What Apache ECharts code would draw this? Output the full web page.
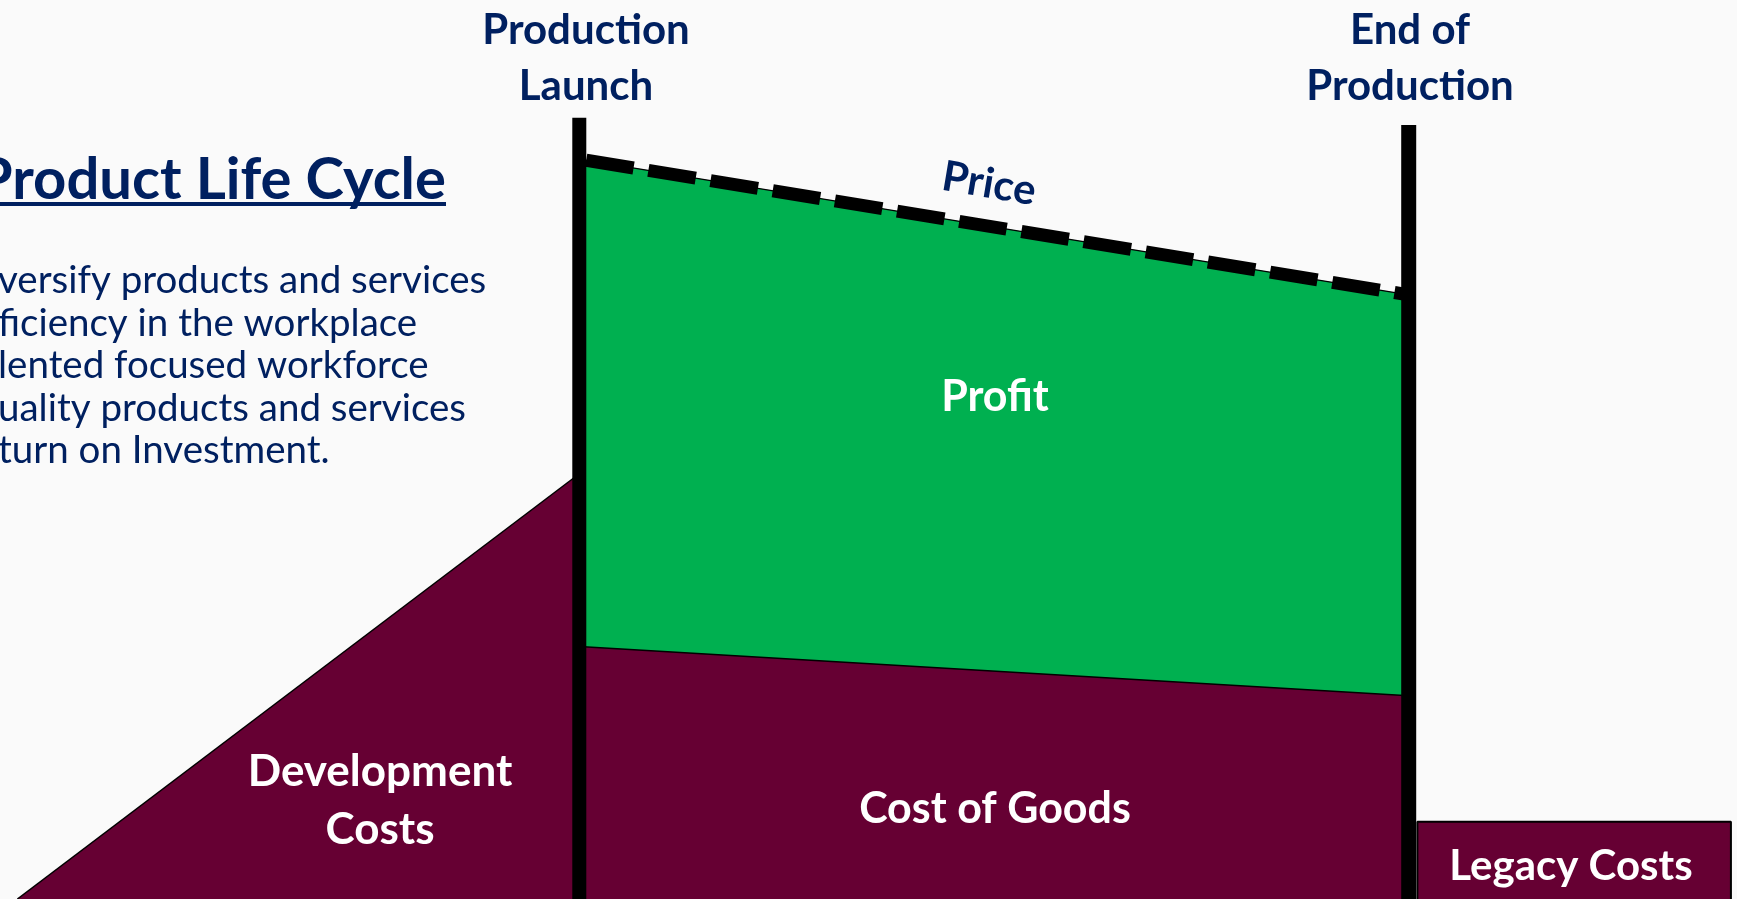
<!DOCTYPE html>
<html>
<head>
<meta charset="utf-8">
<title>Product Life Cycle</title>
<script src="https://cdn.jsdelivr.net/npm/echarts@6/dist/echarts.min.js"></script>
<style>
  html, body { margin: 0; padding: 0; background: #fafafa; }
  #chart { width: 1737px; height: 899px; }
</style>
</head>
<body>
<div id="chart"></div>
<script>
// x = time (0..100), y = money (0..100)
const milestoneNames = ["Production\nLaunch", "End of\nProduction"];
const milestoneX = [33.35, 81.1];
const milestoneTop = [86.9, 86.1];

const devX = [1.0, 33.35];
const devY = [0, 47.3];

const priceY = [82.3, 67.2];   // at launch, at end of production
const goodsY = [28.1, 22.6];

const legacyX = [81.6, 99.65];
const legacyY = [8.6, 8.6];

const bulletLines = [
    "versify products and services",
    "ficiency in the workplace",
    "lented focused workforce",
    "uality products and services",
    "turn on Investment."
];

const NAVY = "#002060";
const GREEN = "#00b050";
const MAROON = "#660033";
const FONT = "Lato";

const chart = echarts.init(document.getElementById("chart"));

function pairs(xs, ys) {
    return xs.map((x, i) => [x, ys[i]]);
}

// texte en graphic
function txt(text, x, y, size, color, opts = {}) {
    return {
        type: "text",
        x: x,
        y: y,
        rotation: opts.rotation || 0,
        silent: true,
        z: 100,
        style: {
            text: text,
            fill: color,
            fontFamily: FONT,
            fontSize: size,
            fontWeight: opts.weight || "bold",
            lineHeight: opts.lineHeight || size * 1.3,
            textAlign: opts.align || "center",
            align: opts.align || "center",
            textVerticalAlign: "middle",
            verticalAlign: "middle"
        }
    };
}

const milestoneSeries = milestoneX.map((x, i) => ({
    name: milestoneNames[i],
    type: "line",
    data: [[x, 0], [x, milestoneTop[i]]],
    symbol: "none",
    lineStyle: { color: "#000", width: i === 0 ? 14 : 15, cap: "butt" },
    z: 10
}));

const option = {
    backgroundColor: "#fafafa",
    animation: false,
    grid: { left: 0, right: 0, top: 0, bottom: 0 },
    xAxis: { type: "value", min: 0, max: 100, show: false },
    yAxis: { type: "value", min: 0, max: 100, show: false },
    series: [
        {
            name: "Price",
            type: "line",
            data: pairs(milestoneX, priceY),
            symbol: "none",
            lineStyle: { color: "#000", width: 1.5 },
            areaStyle: { color: GREEN, opacity: 1 },
            z: 2
        },
        {
            name: "Cost of Goods",
            type: "line",
            data: pairs(milestoneX, goodsY),
            symbol: "none",
            lineStyle: { color: "#000", width: 1.5 },
            areaStyle: { color: MAROON, opacity: 1 },
            z: 3
        },
        {
            name: "Development Costs",
            type: "line",
            data: pairs(devX, devY),
            symbol: "none",
            lineStyle: { color: "#000", width: 1.5 },
            areaStyle: { color: MAROON, opacity: 1 },
            z: 3
        },
        {
            name: "Legacy Costs",
            type: "line",
            data: [[legacyX[0], 0], ...pairs(legacyX, legacyY), [legacyX[1], 0]],
            symbol: "none",
            lineStyle: { color: "#000", width: 2 },
            areaStyle: { color: MAROON, opacity: 1 },
            z: 3
        },
        {
            name: "Price line",
            type: "line",
            data: pairs(milestoneX, priceY),
            symbol: "none",
            lineStyle: { color: "#000", width: 13, type: [48, 15], dashOffset: -7, cap: "butt" },
            z: 5
        },
        ...milestoneSeries
    ],
    graphic: [
        txt("Product Life Cycle", 446, 180, 58, NAVY, { align: "right" }),
        {
            type: "line",
            silent: true,
            shape: { x1: 0, y1: 204, x2: 446, y2: 204 },
            style: { stroke: NAVY, lineWidth: 4 }
        },
        ...bulletLines.map((line, i) =>
            txt(line, -2, 281 + i * 42.5, 38.5, NAVY, { align: "left", weight: "normal" })),
        txt(milestoneNames[0], 586, 58, 42, NAVY, { lineHeight: 56 }),
        txt(milestoneNames[1], 1410, 58, 42, NAVY, { lineHeight: 56 }),
        txt("Price", 989, 184, 42, NAVY, { rotation: -9.5 * Math.PI / 180 }),
        txt("Profit", 995, 397, 43, "#fff"),
        txt("Cost of Goods", 995, 809, 43, "#fff"),
        txt("Development\nCosts", 380, 801, 44, "#fff", { lineHeight: 58 }),
        txt("Legacy Costs", 1571, 866, 42, "#fff")
    ]
};

chart.setOption(option);
</script>
</body>
</html>
